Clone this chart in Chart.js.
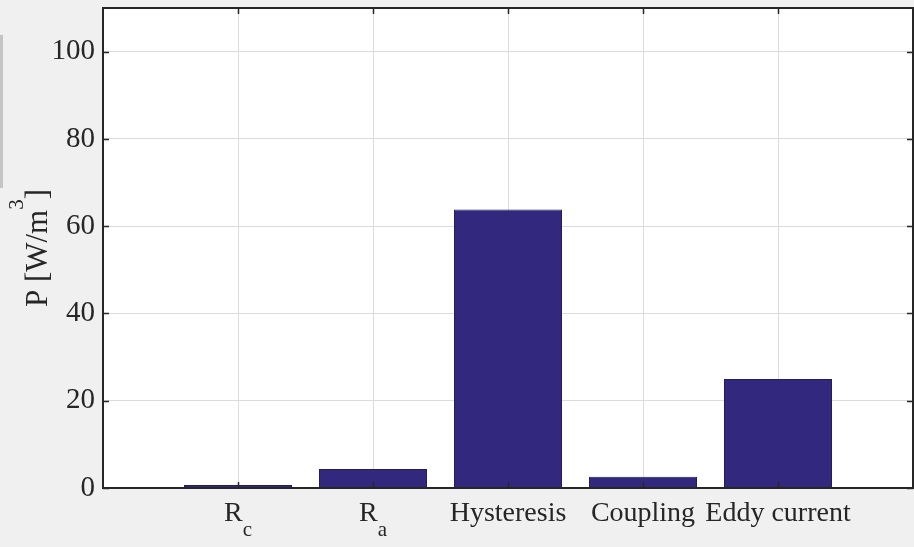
<!DOCTYPE html>
<html>
<head>
<meta charset="utf-8">
<script src="https://cdn.jsdelivr.net/npm/chart.js@4"></script>
<style>
    html, body { margin: 0; padding: 0; background: #f0f0f0; }
    #wrap { position: relative; width: 914px; height: 547px; }
    #strip { position: absolute; left: 0; top: 35px; width: 3px; height: 153px; background: #c4c4c4; }
</style>
</head>
<body>
<div id="wrap">
    <canvas id="chart" width="914" height="547"></canvas>
    <div id="strip"></div>
</div>
<script>
// Categories (blank slots at both ends give the MATLAB-style margins)
const categories = ['', 'R', 'R', 'Hysteresis', 'Coupling', 'Eddy current', ''];
const subscripts = ['', 'c', 'a', '', '', '', ''];
// Loss density P [W/m^3]
const lossValues = [null, 0.7, 4.35, 63.8, 2.6, 25.0, null];
const yTickStep = 20;
const yMax = 110;

const textColor = '#262626';
const serif = '"Liberation Serif", "Times New Roman", serif';

// Draws the white axes background, box, inward ticks, x labels with subscripts and the y title
const matlabAxes = {
    id: 'matlabAxes',
    beforeDraw(chart) {
        const ctx = chart.ctx;
        const area = chart.chartArea;
        ctx.save();
        ctx.fillStyle = '#ffffff';
        ctx.fillRect(area.left, area.top, area.right - area.left, area.bottom - area.top);
        ctx.restore();
    },
    afterDraw(chart) {
        const ctx = chart.ctx;
        const area = chart.chartArea;
        const xs = chart.scales.x;
        const ys = chart.scales.y;
        const tick = 6;

        ctx.save();
        ctx.strokeStyle = textColor;
        ctx.lineWidth = 1.5;

        // inward ticks on all four sides
        ctx.beginPath();
        ys.ticks.forEach(t => {
            const y = Math.round(ys.getPixelForValue(t.value)) + 0.5;
            ctx.moveTo(area.left, y); ctx.lineTo(area.left + tick, y);
            ctx.moveTo(area.right, y); ctx.lineTo(area.right - tick, y);
        });
        categories.forEach((c, i) => {
            if (!c) return;
            const x = Math.round(xs.getPixelForValue(i)) + 0.5;
            ctx.moveTo(x, area.bottom); ctx.lineTo(x, area.bottom - tick);
            ctx.moveTo(x, area.top); ctx.lineTo(x, area.top + tick);
        });
        ctx.stroke();

        // axes box
        ctx.lineWidth = 2;
        ctx.strokeRect(area.left, area.top, area.right - area.left, area.bottom - area.top);

        // x labels
        ctx.fillStyle = textColor;
        ctx.textBaseline = 'alphabetic';
        ctx.textAlign = 'left';
        categories.forEach((c, i) => {
            if (!c) return;
            const x = xs.getPixelForValue(i);
            ctx.font = '28px ' + serif;
            const w1 = ctx.measureText(c).width;
            ctx.font = '21px ' + serif;
            const w2 = subscripts[i] ? ctx.measureText(subscripts[i]).width : 0;
            const x0 = x - (w1 + w2) / 2;
            ctx.font = '28px ' + serif;
            ctx.fillText(c, x0, 521);
            if (subscripts[i]) {
                ctx.font = '21px ' + serif;
                ctx.fillText(subscripts[i], x0 + w1, 536);
            }
        });

        // y title P [W/m^3]
        ctx.translate(47, (area.top + area.bottom) / 2);
        ctx.rotate(-Math.PI / 2);
        const parts = [['P [W/m', 31, 0], ['3', 21, -24], [']', 31, 0]];
        let total = 0;
        parts.forEach(p => { ctx.font = p[1] + 'px ' + serif; total += ctx.measureText(p[0]).width; });
        let px = -total / 2;
        parts.forEach(p => {
            ctx.font = p[1] + 'px ' + serif;
            ctx.fillText(p[0], px, p[2]);
            px += ctx.measureText(p[0]).width;
        });
        ctx.restore();
    }
};

new Chart(document.getElementById('chart').getContext('2d'), {
    type: 'bar',
    data: {
        labels: categories,
        datasets: [{
            data: lossValues,
            backgroundColor: '#32297f',
            borderColor: '#231d5c',
            borderWidth: 1,
            barPercentage: 0.8,
            categoryPercentage: 1.0,
        }],
    },
    options: {
        responsive: false,
        animation: false,
        layout: { padding: { top: 8, right: 1, left: 0, bottom: 0 } },
        plugins: {
            legend: { display: false },
            tooltip: { enabled: false },
        },
        scales: {
            x: {
                offset: false,
                grid: { color: '#dcdcdc', lineWidth: 1, drawTicks: false, offset: false },
                border: { display: false },
                ticks: { callback: () => '', autoSkip: false },
                afterFit: (scale) => {
                    scale.height = 59;
                    scale.paddingLeft = 0; scale.paddingRight = 0;
                },
            },
            y: {
                min: 0,
                max: yMax,
                grid: { color: '#dcdcdc', lineWidth: 1, drawTicks: false },
                border: { display: false },
                ticks: {
                    stepSize: yTickStep,
                    includeBounds: false,
                    padding: 8,
                    color: textColor,
                    font: { family: serif, size: 29 },
                },
                afterFit: (scale) => {
                    scale.width = 103;
                    scale.paddingTop = 0; scale.paddingBottom = 0;
                },
            },
        },
    },
    plugins: [matlabAxes],
});
</script>
</body>
</html>
